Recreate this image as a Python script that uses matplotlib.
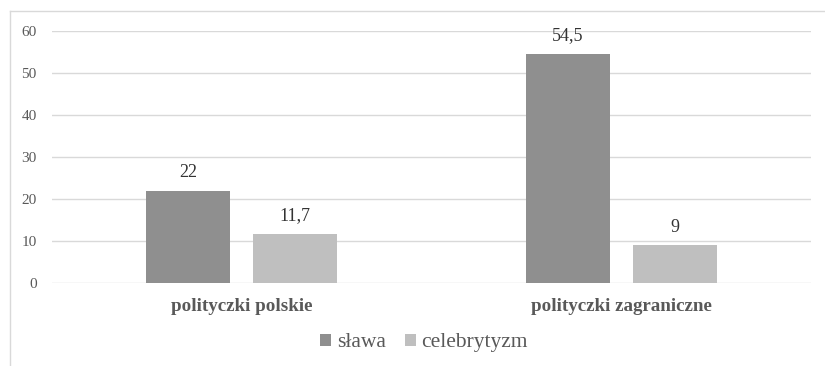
import matplotlib.pyplot as plt
from matplotlib.lines import Line2D
import numpy as np

# dane
kategorie = ['polityczki polskie', 'polityczki zagraniczne']
slawa = [22, 54.5]
celebrytyzm = [11.7, 9]
serie = ['sława', 'celebrytyzm']

plt.rcParams['font.family'] = ['Liberation Serif', 'DejaVu Serif']

fig = plt.figure(figsize=(8.25, 3.66), dpi=100)
ax = fig.add_axes([0.063, 0.2268, 0.92, 0.6885])

x = np.arange(len(kategorie))
szer = 0.221
odst = szer / 2 + 0.0303

b1 = ax.bar(x - odst, slawa, szer, color='#8f8f8f', label=serie[0], zorder=3)
b2 = ax.bar(x + odst, celebrytyzm, szer, color='#bfbfbf', label=serie[1], zorder=3)

def fmt(v):
    s = f'{v:g}'
    return s.replace('.', ',')

for bars, vals in ((b1, slawa), (b2, celebrytyzm)):
    for b, v in zip(bars, vals):
        ax.annotate(fmt(v), (b.get_x() + b.get_width() / 2, v),
                    xytext=(0, 13), textcoords='offset points',
                    ha='center', va='center', fontsize=13, color='#333333')

ax.set_xlim(-0.5, 1.5)
ax.set_ylim(0, 60)
ax.set_yticks(range(0, 61, 10))
ax.set_xticks(x)
ax.set_xticklabels(kategorie, fontsize=13.7, fontweight='bold', color='#595959')
ax.tick_params(axis='y', labelsize=11, colors='#595959', length=0, pad=11)
ax.tick_params(axis='x', length=0, pad=11)
ax.grid(axis='y', color='#d9d9d9', linewidth=1, zorder=0)
for s in ax.spines.values():
    s.set_visible(False)

fig.legend(handles=[b1, b2], labels=serie, loc='center', bbox_to_anchor=(0.514, 0.063),
           ncol=2, frameon=False, fontsize=15.5, handlelength=0.52, handleheight=0.52,
           handletextpad=0.25, columnspacing=0.9, labelcolor='#595959')

# ramka wykresu
fig.add_artist(Line2D([10 / 825, 1], [1 - 11 / 366, 1 - 11 / 366],
                      transform=fig.transFigure, color='#d9d9d9', linewidth=1))
fig.add_artist(Line2D([10 / 825, 10 / 825], [0, 1 - 11 / 366],
                      transform=fig.transFigure, color='#d9d9d9', linewidth=1))

fig.savefig('out.png', dpi=100)
